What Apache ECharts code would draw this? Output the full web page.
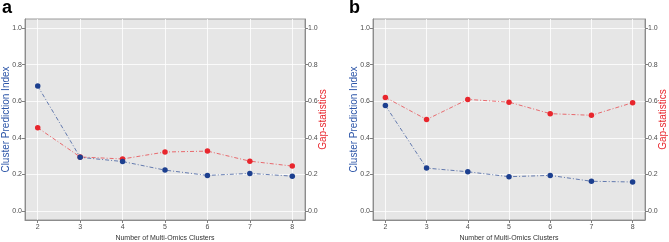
<!DOCTYPE html>
<html><head><meta charset="utf-8">
<script src="https://cdn.jsdelivr.net/npm/echarts@6/dist/echarts.min.js"></script>
<style>html,body{margin:0;padding:0;background:#fff}#c{width:669px;height:242px}</style>
</head><body><div id="c"></div>
<script>
const clusters = [2, 3, 4, 5, 6, 7, 8];
const cpiA = [0.683, 0.293, 0.270, 0.223, 0.194, 0.205, 0.190];
const gapA = [0.455, 0.295, 0.284, 0.322, 0.327, 0.272, 0.245];
const cpiB = [0.577, 0.234, 0.214, 0.187, 0.194, 0.162, 0.158];
const gapB = [0.621, 0.500, 0.610, 0.595, 0.532, 0.523, 0.592];
const yTicks = [0, 0.2, 0.4, 0.6, 0.8, 1.0];
const panelLabels = ['a', 'b'];
const xTitle = 'Number of Multi-Omics Clusters';
const leftTitle = 'Cluster Prediction Index';
const rightTitle = 'Gap-statistics';

const BLUE = '#1c3f8f', RED = '#e8262d', BLUE_TXT = '#2c55a8';
const FONT = 'Liberation Sans, Arial, sans-serif';
const chart = echarts.init(document.getElementById('c'), null, {renderer: 'canvas'});

const grids = [
  {left: 25, width: 280, top: 19, height: 201},
  {left: 373, width: 272, top: 19, height: 201}
];
const tickStyle = {show: true, length: 3, lineStyle: {color: '#7f7f7f', width: 1}};
const lblStyle = {fontSize: 7, color: '#4d4d4d', fontFamily: FONT};

const xAxes = grids.map((g, i) => ({
  gridIndex: i, type: 'value', min: 1.7, max: 8.3,
  axisLine: {show: true, onZero: false, lineStyle: {color: '#8c8c8c', width: 1}},
  axisTick: Object.assign({customValues: clusters}, tickStyle),
  axisLabel: Object.assign({customValues: clusters, margin: 4}, lblStyle),
  splitLine: {show: true, lineStyle: {color: '#ffffff', width: 0.8}},
  name: xTitle, nameLocation: 'middle', nameGap: 15, nameMoveOverlap: false,
  nameTextStyle: {fontSize: 7, color: '#333', fontFamily: FONT}
}));
const yAxes = [];
grids.forEach((g, i) => {
  yAxes.push({
    gridIndex: i, type: 'value', min: -0.05, max: 1.05, position: 'left',
    axisLine: {show: true, lineStyle: {color: '#8c8c8c', width: 1}},
    axisTick: Object.assign({customValues: yTicks}, tickStyle),
    axisLabel: Object.assign({customValues: yTicks, margin: 3, formatter: v => v.toFixed(1)}, lblStyle),
    splitLine: {show: true, lineStyle: {color: '#ffffff', width: 0.8}},
    name: leftTitle, nameLocation: 'middle', nameGap: 14, nameMoveOverlap: false,
    nameTextStyle: {fontSize: 10, color: BLUE_TXT, fontFamily: FONT}
  });
  yAxes.push({
    gridIndex: i, type: 'value', min: -0.05, max: 1.05, position: 'right',
    axisLine: {show: true, lineStyle: {color: '#8c8c8c', width: 1}},
    axisTick: Object.assign({customValues: yTicks}, tickStyle),
    axisLabel: Object.assign({customValues: yTicks, margin: 3, formatter: v => v.toFixed(1)}, lblStyle),
    splitLine: {show: false},
    name: rightTitle, nameLocation: 'middle', nameGap: 13, nameMoveOverlap: false,
    nameTextStyle: {fontSize: 10, color: RED, fontFamily: FONT}
  });
});

function mk(vals, color, gi, yi) {
  return {
    type: 'line', xAxisIndex: gi, yAxisIndex: yi,
    data: clusters.map((c, k) => [c, vals[k]]),
    symbol: 'circle', symbolSize: 5.5,
    itemStyle: {color: color},
    lineStyle: {color: color, width: 1, type: [4, 2, 1, 2], opacity: 0.65},
    animation: false, z: color === RED ? 3 : 4
  };
}

chart.setOption({
  animation: false,
  grid: grids.map(g => Object.assign({show: true, backgroundColor: '#e6e6e6', borderColor: '#9a9a9a', borderWidth: 1, containLabel: false, outerBoundsMode: 'none'}, g)),
  xAxis: xAxes,
  yAxis: yAxes,
  series: [
    mk(gapA, RED, 0, 1), mk(cpiA, BLUE, 0, 0),
    mk(gapB, RED, 1, 3), mk(cpiB, BLUE, 1, 2)
  ],
  graphic: [
    {type: 'text', left: 2, top: -1, style: {text: panelLabels[0], font: 'bold 18px ' + FONT, fill: '#000'}},
    {type: 'text', left: 349, top: -1, style: {text: panelLabels[1], font: 'bold 18px ' + FONT, fill: '#000'}}
  ]
});
</script></body></html>
